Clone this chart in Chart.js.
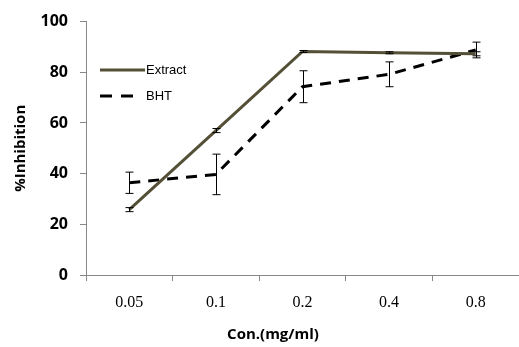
<!DOCTYPE html>
<html>
<head>
<meta charset="utf-8">
<script src="https://cdn.jsdelivr.net/npm/chart.js@4"></script>
<style>
  html, body { margin: 0; padding: 0; background: #fff; }
  #wrap { width: 519px; height: 347px; }
</style>
</head>
<body>
<div id="wrap"><canvas id="chart" width="519" height="347"></canvas></div>
<script>
const concentrations = ["0.05", "0.1", "0.2", "0.4", "0.8"]
const extractValues = [25.8, 57, 88.2, 87.7, 87.3]
const extractErrors = [0.8, 0.8, 0.4, 0.4, 0.8]
const bhtValues = [36.4, 39.7, 74.3, 79.2, 88.8]
const bhtErrors = [4.2, 8, 6.3, 4.9, 3.1]
const yTicks = [0, 20, 40, 60, 80, 100]

const extractColor = "#544f37"

// error bars drawn from the scales
const errorBars = {
    id: "errorBars",
    afterDatasetsDraw(chart) {
        const ctx = chart.ctx
        const x = chart.scales.x
        const y = chart.scales.y
        const sets = [
            [extractValues, extractErrors],
            [bhtValues, bhtErrors],
        ]
        ctx.save()
        ctx.strokeStyle = "#000"
        ctx.lineWidth = 1
        sets.forEach(([vals, errs]) => {
            vals.forEach((v, i) => {
                const px = Math.round(x.getPixelForValue(i)) + 0.5
                const top = y.getPixelForValue(v + errs[i])
                const bot = y.getPixelForValue(v - errs[i])
                ctx.beginPath()
                ctx.moveTo(px, top)
                ctx.lineTo(px, bot)
                ctx.moveTo(px - 4, top)
                ctx.lineTo(px + 4, top)
                ctx.moveTo(px - 4, bot)
                ctx.lineTo(px + 4, bot)
                ctx.stroke()
            })
        })
        ctx.restore()
    },
}

// legend inside plot + x axis title
const extras = {
    id: "extras",
    afterDraw(chart) {
        const ctx = chart.ctx
        ctx.save()
        ctx.lineWidth = 3
        ctx.strokeStyle = extractColor
        ctx.beginPath()
        ctx.moveTo(100, 70)
        ctx.lineTo(145, 70)
        ctx.stroke()
        ctx.strokeStyle = "#000"
        ctx.setLineDash([12, 9])
        ctx.beginPath()
        ctx.moveTo(100, 96)
        ctx.lineTo(133, 96)
        ctx.stroke()
        ctx.setLineDash([])
        ctx.fillStyle = "#000"
        ctx.font = "13px 'Liberation Sans', Arial, sans-serif"
        ctx.textBaseline = "middle"
        ctx.textAlign = "left"
        ctx.fillText("Extract", 146, 70)
        ctx.fillText("BHT", 146, 96)
        ctx.font = "bold 15px 'Open Sans', sans-serif"
        ctx.textAlign = "center"
        ctx.fillText("Con.(mg/ml)", 273, 335)
        ctx.restore()
    },
}

new Chart(document.getElementById("chart"), {
    type: "line",
    data: {
        labels: concentrations,
        datasets: [
            {
                label: "Extract",
                data: extractValues,
                borderColor: extractColor,
                borderWidth: 3,
                pointRadius: 0,
                tension: 0,
            },
            {
                label: "BHT",
                data: bhtValues,
                borderColor: "#000",
                borderWidth: 3,
                borderDash: [11, 8],
                pointRadius: 0,
                tension: 0,
            },
        ],
    },
    options: {
        responsive: false,
        animation: false,
        layout: { padding: { top: 21, right: 0, left: 12, bottom: 0 } },
        plugins: {
            legend: { display: false },
            tooltip: { enabled: false },
        },
        scales: {
            x: {
                offset: true,
                grid: {
                    offset: true,
                    drawOnChartArea: false,
                    color: "#888",
                    tickLength: 6,
                },
                border: { color: "#888" },
                ticks: {
                    color: "#000",
                    padding: 12,
                    font: { family: "'Liberation Serif', serif", size: 16 },
                },
                afterFit(scale) {
                    scale.height = 72
                },
            },
            y: {
                min: 0,
                max: 100,
                afterBuildTicks(scale) {
                    scale.ticks = yTicks.map((v) => ({ value: v }))
                },
                grid: {
                    drawOnChartArea: false,
                    color: "#888",
                    tickLength: 6,
                },
                border: { color: "#888" },
                ticks: {
                    color: "#000",
                    padding: 12,
                    font: { family: "'Open Sans', sans-serif", size: 16, weight: "bold" },
                },
                title: {
                    display: true,
                    text: "%Inhibition",
                    color: "#000",
                    padding: 0,
                    font: { family: "'Open Sans', sans-serif", size: 15, weight: "bold" },
                },
                afterFit(scale) {
                    scale.width = 74
                },
            },
        },
    },
    plugins: [errorBars, extras],
})
</script>
</body>
</html>
